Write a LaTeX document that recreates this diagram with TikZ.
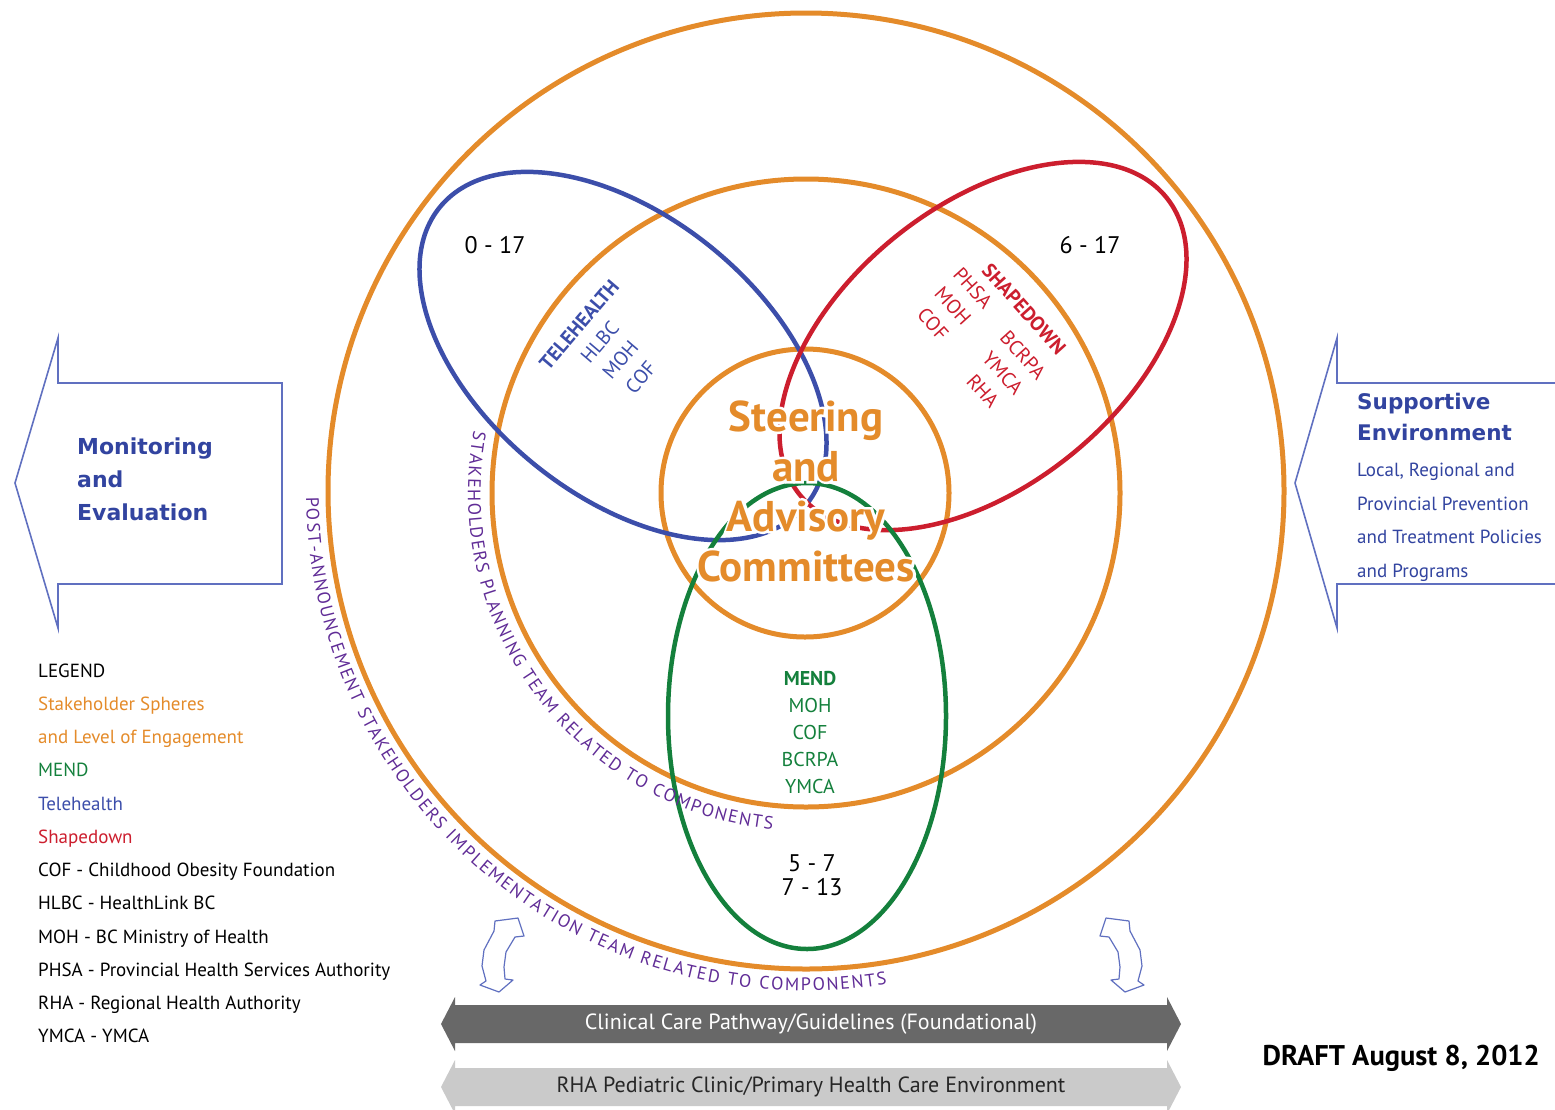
\documentclass[tikz,border=0pt]{standalone}
\usepackage{fontspec}
\setmainfont{PT Sans}
\newfontfamily\wideface{DejaVu Sans}
\usepackage{tikz}
\definecolor{sphereorange}{RGB}{228,139,42}
\definecolor{teleblue}{RGB}{60,78,170}
\definecolor{shapered}{RGB}{204,30,46}
\definecolor{mendgreen}{RGB}{20,128,60}
\definecolor{teampurple}{RGB}{96,44,150}
\definecolor{arrowblue}{RGB}{96,112,192}
\definecolor{labelblue}{RGB}{50,68,160}
\definecolor{bardark}{RGB}{104,104,104}
\definecolor{barlight}{RGB}{202,202,202}
\usetikzlibrary{decorations.text}
% white outline behind a word (stroked copy)
\newcommand{\halo}[1]{\makebox[0pt][l]{\special{pdf:literal direct 1 Tr 5 w 1 1 1 RG}#1\special{pdf:literal direct 0 Tr}}#1}
\newcommand{\teamfont}{\fontsize{18}{18}\selectfont}

\begin{document}
\begin{tikzpicture}[x=1pt, y=-1pt,
        sphere/.style={draw=sphereorange, line width=5pt},
        program/.style={line width=4.5pt},
        sidearrow/.style={draw=arrowblue, line width=1.6pt, fill=white},
        swing/.style={draw=arrowblue, line width=1.2pt, fill=white, line join=round},
        bandtext/.style={inner sep=0pt, font=\fontsize{22}{22}\selectfont},
        legendline/.style={anchor=base west, inner sep=0pt, font=\fontsize{19}{19}\selectfont},
        age/.style={inner sep=0pt, align=center, font=\fontsize{24}{24}\selectfont},
        member/.style={inner sep=0pt, align=center, font=\fontsize{20}{27}\selectfont}]
    % page
    \useasboundingbox (0,0) rectangle (1555,1109);
    % stakeholder spheres
    \draw[sphere] (806,491) circle[radius=478pt];
    \draw[sphere] (806,493) circle[radius=314pt];
    \draw[sphere] (805,493) circle[radius=144pt];
    % programs
    \draw[program, teleblue, rotate around={-39:(623,356)}] (623,356) ellipse[x radius=236pt, y radius=140pt];
    \draw[program, shapered, rotate around={39:(983,346)}] (983,346) ellipse[x radius=236pt, y radius=140pt];
    \draw[program, mendgreen] (807,716) ellipse[x radius=139pt, y radius=233pt];
    % team texts along the spheres
    \path[decorate, decoration={text along path, text align={fit to path}, text color=teampurple,
            text={|\teamfont|STAKEHOLDERS PLANNING TEAM RELATED TO COMPONENTS}}]
        ([shift={(169.4:338pt)}]806,493) arc[start angle=169.4, end angle=264.3, radius=338pt];
    \path[decorate, decoration={text along path, text align={fit to path}, text color=teampurple,
            text={|\teamfont|POST-ANNOUNCEMENT STAKEHOLDERS IMPLEMENTATION TEAM RELATED TO COMPONENTS}}]
        ([shift={(180.7:500pt)}]806,491) arc[start angle=180.7, end angle=279.3, radius=500pt];
    % centre
    \node (steering) [align=center, inner sep=0pt, text=sphereorange, font=\fontsize{43}{50}\selectfont\bfseries]
        at (806,491) {\halo{Steering}\\\halo{and}\\\halo{Advisory}\\\halo{Committees}};
    % program members
    \node (tele) [member, text=teleblue, rotate=49.5] at (610,351) {\textbf{TELEHEALTH}\\HLBC\\MOH\\COF};
    \node (shape) [member, text=shapered, rotate=-48] at (1024,309) {\textbf{SHAPEDOWN}};
    \node (shapeA) [member, text=shapered, rotate=-48] at (953,306) {PHSA\\MOH\\COF};
    \node (shapeB) [member, text=shapered, rotate=-48] at (1003,373) {BCRPA\\YMCA\\RHA};
    \node (mend) [member, text=mendgreen] at (810,733) {\textbf{MEND}\\MOH\\COF\\BCRPA\\YMCA};
    % age groups
    \node (ageTele) [age] at (495,245) {0 - 17};
    \node (ageShape) [age] at (1090,245) {6 - 17};
    \node (ageMend) [age] at (812,875) {5 - 7\\7 - 13};
    % side arrows
    \draw[sidearrow] (15,483) -- (58,338) -- (58,383) -- (282,383) -- (282,584) -- (58,584) -- (58,628) -- cycle;
    \draw[sidearrow] (1560,383) -- (1337,383) -- (1337,338) -- (1295,483) -- (1337,628) -- (1337,584) -- (1560,584);
    \node (monitor) [anchor=north west, align=left, inner sep=0pt, text=labelblue, font=\fontsize{22}{33}\wideface\bfseries]
        at (77,438) {Monitoring\\and\\Evaluation};
    \node (support) [anchor=north west, align=left, inner sep=0pt, text=labelblue, font=\fontsize{21.5}{31}\wideface\bfseries]
        at (1357,393) {Supportive\\Environment};
    \node (supportText) [anchor=north west, align=left, inner sep=0pt, text=labelblue, font=\fontsize{19}{33.5}\selectfont]
        at (1357,463) {Local, Regional and\\Provincial Prevention\\and Treatment Policies\\and Programs};
    % legend
    \foreach \txt/\col [count=\i] in {LEGEND/black, Stakeholder Spheres/sphereorange,
            and Level of Engagement/sphereorange, MEND/mendgreen, Telehealth/teleblue,
            Shapedown/shapered, COF - Childhood Obesity Foundation/black,
            HLBC - HealthLink BC/black, MOH - BC Ministry of Health/black,
            PHSA - Provincial Health Services Authority/black,
            RHA - Regional Health Authority/black, YMCA - YMCA/black}
        \node (leg\i) [legendline, text=\col] at (38,{677+33.27*(\i-1)}) {\txt};
    % swinging arrows
    \foreach \sx/\dx in {1/0,-1/1624}
        \draw[swing, shift={(\dx,0)}, xscale=\sx] (518,918) -- (524,936) -- (515,937) -- (506,952) -- (504,967)
            -- (505,979) -- (513,980) -- (499,992) -- (480,985) -- (486,981) -- (482,966) -- (484,950)
            -- (494,931) -- (495,921) -- cycle;
    % bands
    \fill[bardark] (441,1024) -- (455,997) -- (455,1005) -- (1167,1005) -- (1167,997) -- (1181,1024)
        -- (1167,1051) -- (1167,1043) -- (455,1043) -- (455,1051) -- cycle;
    \fill[barlight] (441,1087) -- (455,1060) -- (455,1068) -- (1167,1068) -- (1167,1060) -- (1181,1087)
        -- (1167,1114) -- (1167,1106) -- (455,1106) -- (455,1114) -- cycle;
    \node (clinical) [bandtext, text=white] at (811,1024) {Clinical Care Pathway/Guidelines (Foundational)};
    \node (clinic) [bandtext, text=black!85] at (811,1087) {RHA Pediatric Clinic/Primary Health Care Environment};
    % date
    \node (draft) [anchor=base east, inner sep=0pt, font=\fontsize{28.5}{28.5}\selectfont\bfseries] at (1540,1065) {DRAFT August 8, 2012};
\end{tikzpicture}
\end{document}
